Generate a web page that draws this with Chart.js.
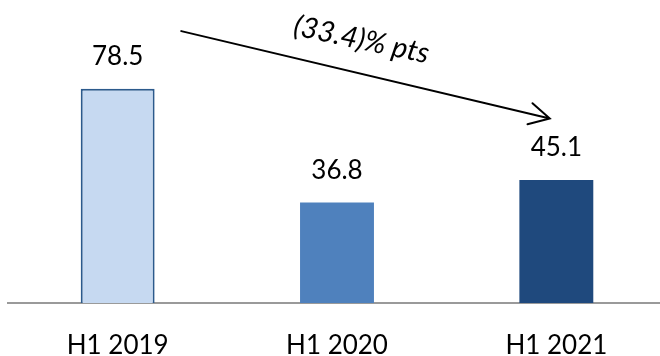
<!DOCTYPE html>
<html>
<head>
<meta charset="utf-8">
<script src="https://cdn.jsdelivr.net/npm/chart.js@4/dist/chart.umd.min.js"></script>
<style>
  html, body { margin: 0; padding: 0; background: #fff; overflow: hidden; }
  #wrap { width: 676px; height: 356px; }
</style>
</head>
<body>
<div id="wrap"><canvas id="c" width="676" height="356"></canvas></div>
<script>
// Half-year values
const categories = ['H1 2019', 'H1 2020', 'H1 2021'];
const values = [78.5, 36.8, 45.1];
const fillColors = ['#C6D9F1', '#4F81BD', '#1F497D'];
const borderColors = ['#2C5A8C', '#4F81BD', '#1F497D'];
const changeLabel = '(33.4)% pts';

const FONT = 'Lato, "Open Sans", sans-serif';

// Value labels above each bar
const valueLabels = {
  id: 'valueLabels',
  afterDatasetsDraw(chart) {
    const ctx = chart.ctx;
    const meta = chart.getDatasetMeta(0);
    ctx.save();
    ctx.font = '26px ' + FONT;
    ctx.fillStyle = '#000';
    ctx.textAlign = 'center';
    ctx.textBaseline = 'middle';
    meta.data.forEach((bar, i) => {
      ctx.fillText(values[i].toFixed(1), bar.x, bar.y - 32);
    });
    ctx.restore();
  }
};

// Arrow from the first bar towards the last one, with the change label
const changeArrow = {
  id: 'changeArrow',
  afterDraw(chart) {
    const { ctx, scales } = chart;
    const x = scales.x, y = scales.y;
    const x1 = x.getPixelForValue(0.29), y1 = y.getPixelForValue(99.6);
    const x2 = x.getPixelForValue(1.97), y2 = y.getPixelForValue(67.6);
    const ang = Math.atan2(y2 - y1, x2 - x1);
    const head = 23, spread = 28 * Math.PI / 180;
    ctx.save();
    ctx.strokeStyle = '#000';
    ctx.lineWidth = 2;
    ctx.lineCap = 'round';
    ctx.beginPath();
    ctx.moveTo(x1, y1);
    ctx.lineTo(x2, y2);
    ctx.moveTo(x2 - head * Math.cos(ang - spread), y2 - head * Math.sin(ang - spread));
    ctx.lineTo(x2, y2);
    ctx.lineTo(x2 - head * Math.cos(ang + spread), y2 - head * Math.sin(ang + spread));
    ctx.stroke();

    const mx = (x1 + x2) / 2, my = (y1 + y2) / 2;
    const dx = Math.cos(ang), dy = Math.sin(ang);
    const nx = dy, ny = -dx;
    const tx = mx - 12 * dx + 33 * nx;
    const ty = my - 12 * dy + 33 * ny;
    ctx.translate(tx, ty);
    ctx.rotate(ang * 0.9);
    ctx.font = 'italic 29px ' + FONT;
    ctx.fillStyle = '#000';
    ctx.textAlign = 'center';
    ctx.textBaseline = 'middle';
    ctx.fillText(changeLabel, 0, 0);
    ctx.restore();
  }
};

new Chart(document.getElementById('c'), {
  type: 'bar',
  data: {
    labels: categories,
    datasets: [{
      data: values,
      backgroundColor: fillColors,
      borderColor: borderColors,
      borderWidth: [2, 0, 0],
      borderSkipped: 'start',
      categoryPercentage: 1,
      barPercentage: 0.337
    }]
  },
  options: {
    responsive: false,
    animation: false,
    events: [],
    layout: { padding: { left: 8, right: 10, top: 0, bottom: 0 } },
    plugins: { legend: { display: false }, tooltip: { enabled: false } },
    scales: {
      x: {
        grid: { display: false, drawTicks: false },
        border: { display: true, color: '#9A9A9A', width: 2 },
        ticks: {
          color: '#000',
          padding: 27,
          font: { family: FONT, size: 26, lineHeight: 1.2 },
          maxRotation: 0
        },
        afterFit(scale) { scale.height = 53; }
      },
      y: {
        display: false,
        min: 0,
        max: 111
      }
    }
  },
  plugins: [valueLabels, changeArrow]
});
</script>
</body>
</html>
